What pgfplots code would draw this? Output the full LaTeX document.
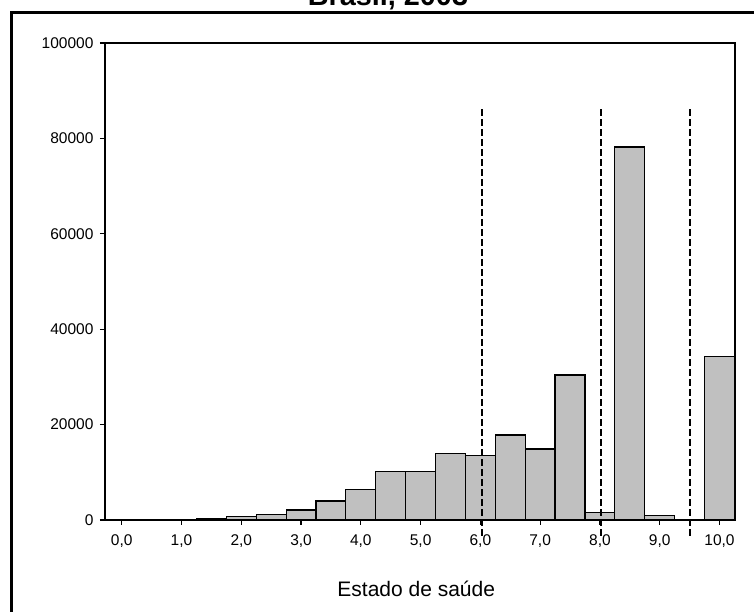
\documentclass[border=0pt]{standalone}
\usepackage{fontspec}
\setmainfont{Liberation Sans}
\usepackage{pgfplots}
\pgfplotsset{compat=1.18}
\definecolor{barfill}{HTML}{C0C0C0}
\begin{document}
\begin{tikzpicture}
\draw[line width=3pt] (11.5pt,-10pt) -- (11.5pt,599pt) -- (770pt,599pt);
\node[anchor=base, font=\fontsize{28.8}{32}\selectfont\bfseries] at (388pt,606pt) {Brasil, 2003};
\begin{axis}[
  at={(105pt,92pt)}, anchor=south west,
  scale only axis, width=630pt, height=477pt,
  xmin=-0.28, xmax=10.26, ymin=0, ymax=100000,
  axis line style={black, line width=1.3pt},
  xtick={0,1,2,3,4,5,6,7,8,9,10},
  xticklabels={{0,0},{1,0},{2,0},{3,0},{4,0},{5,0},{6,0},{7,0},{8,0},{9,0},{10,0}},
  ytick={0,20000,40000,60000,80000,100000},
  yticklabels={0,20000,40000,60000,80000,100000},
  tick align=outside, tick pos=left, major tick length=5pt,
  tick style={black, line width=1.2pt},
  scaled y ticks=false,
  ticklabel style={font=\fontsize{15.5}{18}\selectfont},
  xticklabel style={yshift=-6.5pt},
  yticklabel style={xshift=-3pt},
  xlabel={Estado de saúde},
  xlabel style={at={(axis description cs:0.494,0)}, anchor=base, yshift=-76.7pt, font=\fontsize{21}{25}\selectfont},
  clip=false,
]
\addplot[ybar, bar width=0.5, bar shift=0pt, fill=barfill, draw=black, line width=1.2pt] coordinates {
(1.5,350) (2.0,700) (2.5,1100) (3.0,2100) (3.5,4000) (4.0,6400) (4.5,10200) (5.0,10200)
(5.5,13900) (6.0,13500) (6.5,17800) (7.0,14900) (7.5,30400) (8.0,1600) (8.5,78200)
(9.0,1000) (10.0,34300)
};
\addplot[black, line width=2pt, dash pattern=on 6.5pt off 3.5pt] coordinates {(6.02,86150) (6.02,-3350)};
\addplot[black, line width=2pt, dash pattern=on 6.5pt off 3.5pt] coordinates {(8.02,86150) (8.02,-3350)};
\addplot[black, line width=2pt, dash pattern=on 6.5pt off 3.5pt] coordinates {(9.50,86150) (9.50,-3350)};
\end{axis}
\pgfresetboundingbox
\path[use as bounding box] (0pt,0pt) rectangle (754pt,612pt);
\end{tikzpicture}
\end{document}
